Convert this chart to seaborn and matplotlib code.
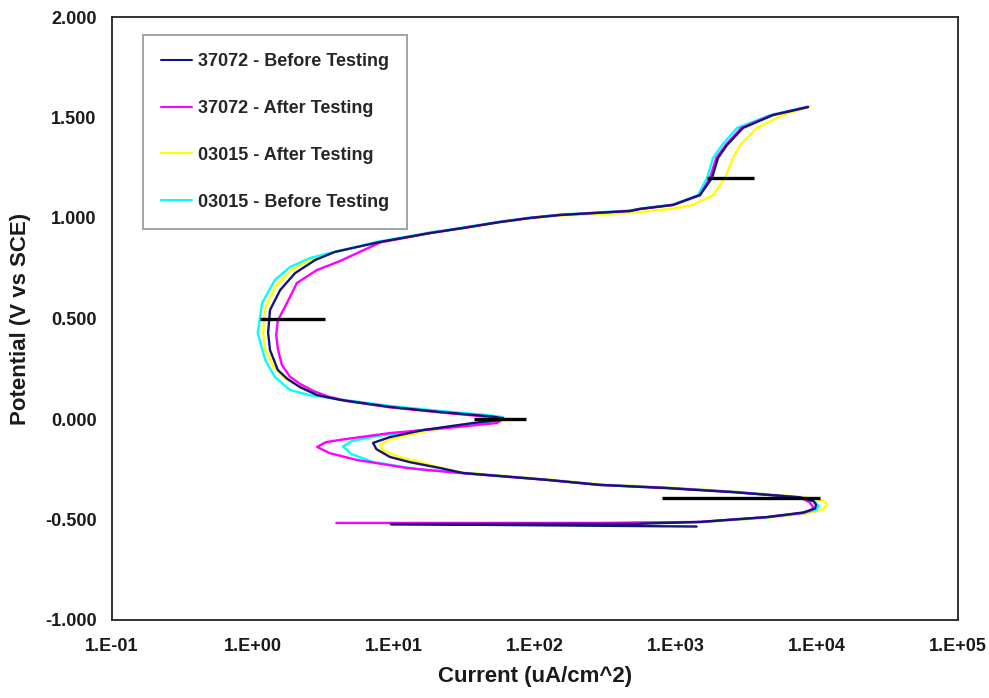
import matplotlib
matplotlib.use("Agg")
import matplotlib.pyplot as plt
import seaborn as sns
import pandas as pd
from matplotlib.ticker import FixedLocator, FixedFormatter, NullLocator

# ---------------- data ----------------
series_names = ["37072 - Before Testing", "37072 - After Testing",
                "03015 - After Testing", "03015 - Before Testing"]
series_colors = ["#14147a", "#ff00ff", "#ffff00", "#00ffff"]

# 37072 - Before Testing
b37_current = [1400, 9.5, 100, 500, 1480, 4400, 8000, 9700, 9850, 9500, 7570, 2540, 863, 289, 122,
               31, 21.2, 13, 9.37, 7.5, 7.1, 9.37, 16.1, 36.3, 56.5, 60, 50, 21.2, 9.37, 4.14,
               2.85, 2.15, 1.75, 1.5, 1.32, 1.28, 1.32, 1.56, 1.99, 2.76, 3.8, 7.96, 18, 30.8,
               56.5, 92, 150, 472, 556, 953, 1479, 1800, 1985, 2300, 2987, 4870, 8630]
b37_potential = [-0.535, -0.523, -0.522, -0.522, -0.512, -0.488, -0.465, -0.445, -0.428, -0.41,
                 -0.390, -0.364, -0.344, -0.328, -0.303, -0.269, -0.244, -0.215, -0.189, -0.15,
                 -0.119, -0.09, -0.055, -0.02, -0.005, 0.003, 0.012, 0.035, 0.06, 0.095, 0.119,
                 0.159, 0.2, 0.244, 0.343, 0.428, 0.542, 0.642, 0.726, 0.791, 0.831, 0.881, 0.925,
                 0.95, 0.98, 1.0, 1.015, 1.035, 1.045, 1.065, 1.114, 1.199, 1.299, 1.363, 1.448,
                 1.512, 1.552]

# 37072 - After Testing
a37_current = [3.9, 30, 300, 1480, 4400, 8000, 9300, 9350, 8800, 7570, 2540, 863, 289, 122, 31,
               12.4, 5.47, 3.5, 2.85, 3.3, 4.14, 9.37, 28, 53.7, 58, 48, 21.2, 9.37, 4.6, 3.4,
               2.67, 2.15, 1.83, 1.6, 1.5, 1.46, 1.5, 1.74, 2.05, 2.84, 4.14, 7.96, 18, 30.8,
               56.5, 92, 150, 472, 556, 953, 1479, 1740, 1930, 2250, 2900, 4800, 8630]
a37_potential = [-0.517, -0.517, -0.517, -0.512, -0.488, -0.467, -0.45, -0.436, -0.413, -0.39,
                 -0.363, -0.343, -0.328, -0.303, -0.27, -0.244, -0.204, -0.17, -0.139, -0.115,
                 -0.104, -0.07, -0.04, -0.02, -0.005, 0.01, 0.033, 0.058, 0.09, 0.112, 0.14,
                 0.175, 0.21, 0.27, 0.35, 0.418, 0.49, 0.577, 0.677, 0.741, 0.786, 0.878, 0.925,
                 0.95, 0.98, 1.0, 1.015, 1.035, 1.045, 1.065, 1.114, 1.199, 1.299, 1.363, 1.448,
                 1.512, 1.552]

# 03015 - After Testing
a03_current = [25, 300, 1480, 4400, 8500, 11000, 11770, 11000, 8000, 2540, 863, 289, 122, 31,
               24.9, 11, 8.3, 7.96, 9.5, 17, 37, 56.5, 59, 48, 21.2, 9.37, 4.14, 2.85, 2.2, 1.7,
               1.4, 1.22, 1.18, 1.22, 1.45, 1.85, 2.6, 3.6, 7.96, 18, 30.8, 56.5, 92, 150, 472,
               900, 1320, 1830, 2230, 2535, 2845, 3750, 5740, 9000]
a03_potential = [-0.519, -0.52, -0.514, -0.492, -0.47, -0.45, -0.425, -0.405, -0.388, -0.361,
                 -0.34, -0.325, -0.3, -0.266, -0.254, -0.189, -0.155, -0.129, -0.1, -0.06,
                 -0.022, -0.005, 0.004, 0.013, 0.036, 0.061, 0.096, 0.12, 0.155, 0.2, 0.26,
                 0.35, 0.428, 0.55, 0.66, 0.74, 0.795, 0.828, 0.882, 0.925, 0.95, 0.979, 0.998,
                 1.012, 1.025, 1.045, 1.065, 1.114, 1.199, 1.299, 1.363, 1.448, 1.512, 1.557]

# 03015 - Before Testing
b03_current = [20, 300, 1480, 4400, 8000, 10000, 10300, 9500, 7570, 2540, 863, 289, 122, 31,
               16.1, 7.1, 5.0, 4.35, 5.0, 7.5, 16, 36, 55, 59, 45, 21.2, 9.37, 4.14, 2.54, 1.83,
               1.43, 1.22, 1.08, 1.16, 1.43, 1.83, 2.54, 3.51, 7.96, 18, 30.8, 56.5, 92, 150,
               472, 556, 953, 1432, 1660, 1830, 2120, 2710, 4650, 8630]
b03_potential = [-0.519, -0.519, -0.513, -0.49, -0.468, -0.45, -0.432, -0.407, -0.389, -0.362,
                 -0.342, -0.327, -0.302, -0.268, -0.254, -0.214, -0.175, -0.137, -0.11, -0.085,
                 -0.055, -0.025, -0.008, 0.01, 0.02, 0.04, 0.065, 0.098, 0.118, 0.144, 0.209,
                 0.294, 0.428, 0.577, 0.692, 0.756, 0.801, 0.826, 0.884, 0.928, 0.953, 0.982,
                 1.002, 1.017, 1.037, 1.047, 1.067, 1.114, 1.199, 1.299, 1.363, 1.448, 1.512, 1.555]

# black marker segments
mark_potential = [1.2, 0.5, 0.0, -0.392]
mark_lo = [1650, 1.12, 37, 800]
mark_hi = [3600, 3.24, 86, 10500]

x_ticks = [1e-1, 1e0, 1e1, 1e2, 1e3, 1e4, 1e5]
x_tick_labels = ["1.E-01", "1.E+00", "1.E+01", "1.E+02", "1.E+03", "1.E+04", "1.E+05"]
y_ticks = [-1.0, -0.5, 0.0, 0.5, 1.0, 1.5, 2.0]
y_tick_labels = ["-1.000", "-0.500", "0.000", "0.500", "1.000", "1.500", "2.000"]

# ---------------- plotting ----------------
sns.set_theme(style="white")
plt.rcParams["font.family"] = ["Liberation Sans", "DejaVu Sans"]
plt.rcParams["font.weight"] = "bold"

fig = plt.figure(figsize=(9.89, 6.98), dpi=100)
ax = fig.add_axes([112 / 989, 1 - 620 / 698, 846 / 989, 603 / 698])

curves = {
    series_names[0]: (b37_current, b37_potential),
    series_names[1]: (a37_current, a37_potential),
    series_names[2]: (a03_current, a03_potential),
    series_names[3]: (b03_current, b03_potential),
}
color_map = dict(zip(series_names, series_colors))
draw_order = [series_names[2], series_names[3], series_names[1], series_names[0]]

for name in draw_order:
    cur, pot = curves[name]
    df = pd.DataFrame({"Current": cur, "Potential": pot})
    sns.lineplot(data=df, x="Current", y="Potential", sort=False, estimator=None,
                 color=color_map[name], lw=1.7, ax=ax, label=name)

ax.hlines(mark_potential, mark_lo, mark_hi, colors="black", lw=2.4, zorder=5)

ax.set_xscale("log")
ax.set_xlim(1e-1, 1e5)
ax.set_ylim(-1.0, 2.0)
ax.xaxis.set_major_locator(FixedLocator(x_ticks))
ax.xaxis.set_major_formatter(FixedFormatter(x_tick_labels))
ax.xaxis.set_minor_locator(NullLocator())
ax.yaxis.set_major_locator(FixedLocator(y_ticks))
ax.yaxis.set_major_formatter(FixedFormatter(y_tick_labels))

ax.tick_params(axis="both", direction="in", length=3, width=1, color="#777777",
               labelsize=13, labelcolor="#1a1a1a")
ax.tick_params(axis="x", pad=13)
ax.tick_params(axis="y", pad=11)
for lab in ax.get_xticklabels() + ax.get_yticklabels():
    lab.set_fontweight("bold")

for sp in ax.spines.values():
    sp.set_visible(True)
    sp.set_color("#222222")
    sp.set_linewidth(1.3)

ax.set_xlabel("Current (uA/cm^2)", fontsize=16, fontweight="bold", color="#1a1a1a", labelpad=8)
ax.set_ylabel("Potential (V vs SCE)", fontsize=16, fontweight="bold", color="#1a1a1a", labelpad=10)

handles, labels = ax.get_legend_handles_labels()
hmap = dict(zip(labels, handles))
leg = ax.legend([hmap[n] for n in series_names], series_names, loc="upper left",
                bbox_to_anchor=(0.0366, 0.970), borderaxespad=0, frameon=True,
                fancybox=False, shadow=False, labelspacing=1.65,
                handlelength=1.7, handletextpad=0.35, borderpad=1.0,
                prop={"weight": "bold", "size": 13})
leg.get_frame().set_edgecolor("#8c8c8c")
leg.get_frame().set_linewidth(1.4)
for line in leg.get_lines():
    line.set_linewidth(1.5)

fig.savefig("out.png", dpi=100, facecolor="white")
